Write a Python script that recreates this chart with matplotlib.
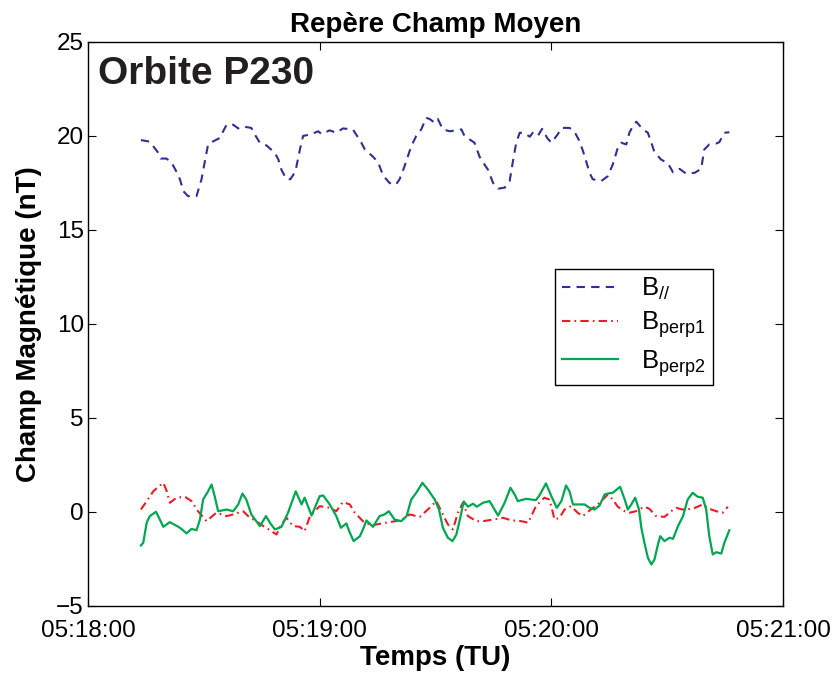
import matplotlib
matplotlib.use("Agg")
import matplotlib.pyplot as plt

plt.rcParams.update({
    "font.family": ["Liberation Sans", "DejaVu Sans"],
    "mathtext.fontset": "custom",
    "mathtext.rm": "Liberation Sans",
    "mathtext.it": "Liberation Sans:italic",
    "mathtext.bf": "Liberation Sans:bold",
})

# time in seconds after 05:18:00
t_par = [13.7, 16.0, 18.2, 18.8, 20.3, 21.6, 22.9, 23.8, 24.7, 25.9, 28.1, 29.4,
         30.3, 31.1, 32.0, 34.2, 35.0, 35.9, 37.6, 38.9, 40.2, 42.3, 43.2, 44.5,
         46.2, 48.4, 49.3, 50.1, 51.4, 52.4, 53.7, 54.9, 55.7, 57.9, 59.6, 60.5,
         62.6, 64.3, 66.0, 68.6, 70.8, 71.7, 73.8, 75.1, 75.5, 76.4, 78.1, 79.7,
         80.7, 82.0, 83.7, 85.0, 86.3, 87.6, 88.5, 89.8, 90.6, 91.9, 93.7, 96.7,
         97.5, 100.1, 101.4, 102.3, 103.6, 104.9, 106.2, 107.9, 109.2, 110.0,
         110.9, 111.8, 112.9, 114.4, 115.2, 116.5, 117.6, 118.9, 120.0, 121.7,
         122.6, 124.7, 126.0, 127.3, 128.2, 129.0, 129.9, 130.7, 132.9, 134.6,
         135.9, 137.2, 138.1, 139.4, 140.2, 141.1, 142.0, 143.7, 145.0, 145.9,
         146.7, 148.4, 150.2, 151.5, 153.2, 154.9, 157.1, 158.8, 159.6, 160.9,
         162.7, 163.5, 164.8, 166.1]
b_par = [19.78, 19.7, 19.1, 18.8, 18.8, 18.6, 18.1, 17.7, 17.06, 16.8, 16.8, 17.7,
         18.7, 19.55, 19.67, 19.9, 20.25, 20.6, 20.6, 20.4, 20.5, 20.43, 20.08, 19.64,
         19.5, 19.1, 18.75, 18.2, 17.7, 17.7, 18.1, 19.3, 20.0, 20.1, 20.25, 20.1,
         20.3, 20.17, 20.4, 20.35, 19.64, 19.28, 18.9, 18.6, 18.4, 17.9, 17.5, 17.4,
         17.7, 18.4, 19.45, 20.0, 20.35, 20.97, 20.9, 20.7, 20.9, 20.35, 20.25, 20.35,
         20.0, 19.64, 18.9, 18.6, 18.2, 17.5, 17.2, 17.25, 17.6, 18.6,
         19.64, 20.17, 20.17, 19.96, 20.17, 20.0, 20.38, 19.9, 19.64, 20.1,
         20.43, 20.43, 20.22, 19.72, 19.19, 18.66, 18.04, 17.7, 17.6, 17.86,
         18.48, 19.37, 19.64, 19.55, 20.17, 20.52, 20.76, 20.35, 20.17, 19.64,
         19.14, 18.75, 18.54, 18.07, 18.25, 18.0, 18.04, 18.25, 19.28, 19.55,
         19.6, 19.67, 20.17, 20.2]

t_p1 = [13.7, 15.2, 16.9, 18.2, 19.5, 20.3, 21.2, 22.9, 25.1, 26.8, 28.5, 30.7,
        33.2, 35.9, 37.6, 40.2, 41.9, 43.2, 45.4, 47.5, 48.8, 50.1, 51.4, 53.1,
        54.9, 56.1, 57.5, 60.0, 62.6, 64.3, 66.0, 67.8, 69.1, 71.2, 73.4, 76.0,
        78.1, 81.1, 83.3, 85.9, 88.0, 90.2, 91.9, 93.2, 94.5, 95.8, 97.1, 98.4,
        100.6, 102.3, 104.9, 107.5, 109.6, 112.2, 114.0, 116.0, 118.2, 119.5,
        120.4, 120.8, 122.1, 123.4, 125.1, 126.8, 128.1, 130.2, 132.5, 134.6,
        135.9, 137.2, 139.0, 140.2, 141.9, 144.1, 145.4, 147.1, 149.3, 151.0,
        152.3, 154.0, 156.6, 159.2, 160.9, 162.7, 164.4, 165.7]
b_p1 = [0.13, 0.58, 1.10, 1.34, 1.55, 1.16, 0.49, 0.76, 0.81, 0.58, 0.04, -0.49,
        -0.04, -0.22, -0.13, 0.04, -0.31, -0.44, -0.75, -1.02, -1.20, -0.66, -0.31, -0.75,
        -0.79, -1.02, -0.22, 0.31, 0.22, 0.04, 0.53, 0.40, -0.04, -0.49, -0.72, -0.61,
        -0.54, -0.44, -0.13, -0.26, 0.13, 0.58, -0.13, -0.66, -0.93, -0.04, 0.49, -0.22,
        -0.49, -0.49, -0.40, -0.31, -0.44, -0.49, -0.57, 0.31, 0.76, 0.66,
        -0.04, -0.40, -0.31, 0.13, 0.31, -0.04, -0.22, 0.13, 0.49, 0.93,
        0.66, 0.28, 0.04, -0.04, 0.04, 0.28, 0.17, -0.22, -0.26, 0.04,
        0.22, 0.13, 0.17, 0.40, 0.17, 0.04, -0.04, 0.28]

t_p2 = [13.7, 14.3, 15.2, 16.0, 17.6, 18.6, 19.5, 21.2, 23.4, 24.2, 25.5, 26.8,
        28.1, 29.0, 29.8, 31.1, 32.0, 32.8, 33.7, 35.9, 37.6, 38.9, 40.0, 41.0,
        42.3, 44.5, 46.1, 47.1, 48.4, 50.1, 51.8, 53.8, 55.3, 56.1, 57.9, 60.0,
        60.9, 62.6, 64.3, 65.5, 66.9, 67.8, 68.8, 70.4, 71.2, 72.1, 73.8, 75.5,
        76.8, 77.9, 79.4, 81.1, 82.5, 83.7, 85.0, 86.6, 88.0, 89.8, 90.9, 91.9,
        93.2, 94.4, 95.4, 96.3, 97.3, 98.4, 99.7, 100.7, 102.3, 104.0, 106.2, 107.9,
        109.4, 110.5, 111.3, 113.5, 116.0, 116.9, 118.6, 120.0, 121.4, 122.6, 123.8,
        124.7, 125.6, 127.3, 128.6, 129.9, 131.2, 132.5, 133.8, 134.6, 135.9, 137.8,
        139.0, 139.8, 140.7, 141.7, 142.7, 143.3, 144.1, 145.0, 145.9, 146.7, 147.6,
        148.2, 149.3, 150.6, 151.5, 152.8, 154.1, 155.3, 156.6, 157.9, 159.2, 160.1,
        160.9, 161.8, 162.7, 164.0, 164.8, 166.1]
b_p2 = [-1.78, -1.64, -0.57, -0.22, 0.01, -0.40, -0.79, -0.54, -0.79, -0.90, -1.14, -0.90,
        -0.97, -0.40, 0.66, 1.10, 1.46, 0.84, 0.04, 0.13, 0.04, 0.40, 0.98, 0.66,
        -0.13, -0.75, -0.22, -0.57, -0.93, -0.79, -0.04, 1.10, 0.40, 0.76, -0.19, 0.84,
        0.88, 0.40, -0.22, -0.84, -0.61, -1.10, -1.55, -1.29, -0.93, -0.45, -0.79, -0.22,
        -0.13, 0.04, -0.40, -0.49, -0.22, 0.66, 1.02, 1.55, 1.20, 0.66, 0.13, -0.84,
        -1.37, -1.55, -1.20, -0.40, 0.56, 0.28, 0.44, 0.28, 0.49, 0.58, -0.19, 0.49,
        1.29, 0.93, 0.58, 0.70, 0.63, 0.88, 1.52, 0.84, 0.22, 0.58, 1.41,
        1.10, 0.40, 0.40, 0.40, 0.22, 0.13, 0.35, 0.93, 0.98, 1.02, 1.34,
        0.66, 0.13, 0.40, 0.76, 0.13, -0.84, -1.64, -2.44, -2.79, -2.53, -1.73,
        -1.29, -1.55, -1.37, -1.43, -0.75, -0.22, 0.66, 1.02, 0.81, 0.76, 0.13,
        -1.29, -2.26, -2.14, -2.21, -1.64, -0.97]

xticks = [0, 60, 120, 180]
xticklabels = ["05:18:00", "05:19:00", "05:20:00", "05:21:00"]
yticks = [-5, 0, 5, 10, 15, 20, 25]

fig = plt.figure(figsize=(8.39, 6.77), dpi=100)
ax = fig.add_axes([0.1049, 0.1049, 0.8284, 0.8331])

ax.plot(t_par, b_par, color="#2e3192", lw=1.5, dashes=(4, 3),
        label=r"B$_{//}$")
ax.plot(t_p1, b_p1, color="#ed1c24", lw=1.5, dashes=(4, 2, 0.8, 2),
        label=r"B$_{\mathrm{perp1}}$")
ax.plot(t_p2, b_p2, color="#00a651", lw=1.6, label=r"B$_{\mathrm{perp2}}$")

ax.set_xlim(0, 180)
ax.set_ylim(-5, 25)
ax.set_xticks(xticks)
ax.set_xticklabels(xticklabels)
ax.set_yticks(yticks)
ax.tick_params(direction="in", length=6, width=0.8, labelsize=17.5,
               top=True, right=True, colors="black", pad=3)
ax.tick_params(axis="x", pad=10)
for s in ax.spines.values():
    s.set_linewidth(1.0)

ax.set_title("Repère Champ Moyen", fontsize=20, fontweight="bold", pad=7)
ax.set_xlabel("Temps (TU)", fontsize=20, fontweight="bold", labelpad=2)
ax.set_ylabel("Champ Magnétique (nT)", fontsize=20, fontweight="bold", labelpad=10)

ax.text(0.015, 0.975, "Orbite P230", transform=ax.transAxes, fontsize=28,
        fontweight="bold", ha="left", va="top", color="#231f20")

leg = ax.legend(loc="upper left", bbox_to_anchor=(0.654, 0.62), fontsize=18.5,
                fancybox=False, framealpha=1, edgecolor="black",
                handlelength=2.2, labelspacing=0.3, borderpad=0.25,
                handletextpad=0.9)
leg.get_frame().set_linewidth(1.0)

fig.savefig("out.png", dpi=100, facecolor="white")
